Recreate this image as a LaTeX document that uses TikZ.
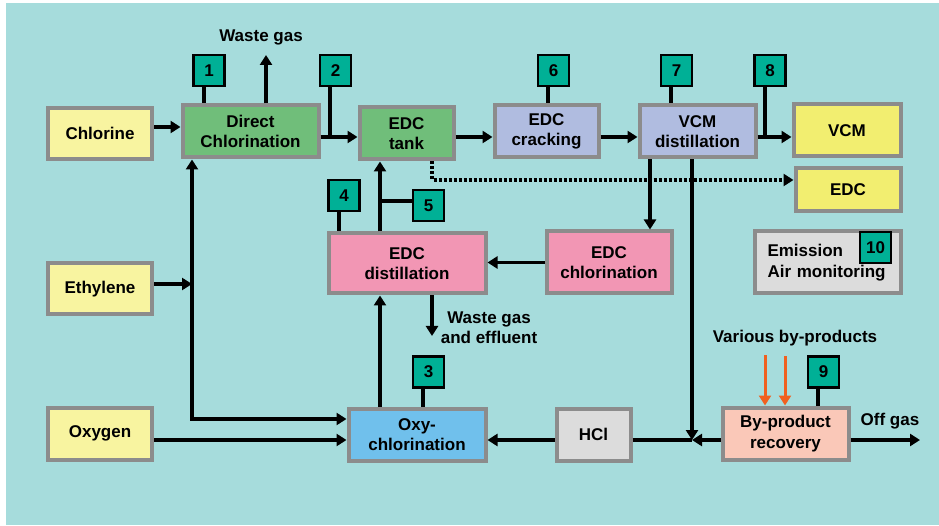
\documentclass[tikz,border=0pt]{standalone}
\usepackage{fontspec}
\setmainfont{Liberation Sans}
\usetikzlibrary{arrows.meta}
\definecolor{bgteal}{RGB}{166,220,220}
\definecolor{feedyellow}{RGB}{248,244,160}
\definecolor{prodyellow}{RGB}{242,238,112}
\definecolor{dcgreen}{RGB}{112,190,122}
\definecolor{lav}{RGB}{176,188,224}
\definecolor{pinkb}{RGB}{242,150,180}
\definecolor{blueb}{RGB}{112,192,236}
\definecolor{grayb}{RGB}{220,220,220}
\definecolor{salmon}{RGB}{250,200,184}
\definecolor{numteal}{RGB}{0,176,150}
\definecolor{bordergray}{RGB}{140,140,140}
\definecolor{orangearr}{RGB}{240,96,32}
\begin{document}
\begin{tikzpicture}[x=1pt,y=-1pt,
  box/.style={draw=bordergray, line width=4pt, inner sep=0pt, align=center,
    font=\bfseries\fontsize{17}{20.5}\selectfont},
  numbox/.style={draw=black, line width=2.5pt, fill=numteal, minimum size=31pt,
    inner sep=0pt, font=\bfseries\fontsize{17}{20}\selectfont},
  flow/.style={line width=3.6pt, -{Triangle[length=10pt,width=12pt]}},
  dotflow/.style={flow, dash pattern=on 3pt off 2pt},
  stub/.style={line width=3.2pt},
  orflow/.style={draw=orangearr, line width=3pt, -{Triangle[length=10pt,width=12pt]}},
  lbl/.style={align=center, inner sep=0pt, font=\bfseries\fontsize{17}{20}\selectfont}]
\useasboundingbox (0,0) rectangle (939,526);
\fill[white] (0,0) rectangle (939,526);
\fill[bgteal] (6,3) rectangle (939,525);

% boxes
\node[box, fill=feedyellow, minimum width=104pt, minimum height=51pt] (chl) at (100,133.5) {Chlorine};
\node[box, fill=feedyellow, minimum width=104pt, minimum height=51pt] (eth) at (100,289) {Ethylene};
\node[box, fill=feedyellow, minimum width=104pt, minimum height=52pt] (oxg) at (100,433.5) {Oxygen};
\node[box, fill=dcgreen, minimum width=136pt, minimum height=52pt] (dc) at (250.5,131.5) {Direct\\Chlorination};
\node[box, fill=dcgreen, minimum width=94pt, minimum height=52pt] (tank) at (406.5,133.5) {EDC\\tank};
\node[box, fill=lav, minimum width=104pt, minimum height=52pt] (crk) at (546.5,131.5) {EDC\\cracking};
\node[box, fill=lav, minimum width=116pt, minimum height=52pt] (vcmd) at (697.5,131.5) {VCM\\distillation};
\node[box, fill=prodyellow, minimum width=107pt, minimum height=52pt] (vcm) at (847,130.5) {VCM};
\node[box, fill=prodyellow, minimum width=105pt, minimum height=43pt] (edc) at (848,190) {EDC};
\node[box, fill=pinkb, minimum width=157pt, minimum height=60pt] (edcd) at (407,263.5) {EDC\\distillation};
\node[box, fill=pinkb, minimum width=125pt, minimum height=62pt] (edcc) at (609,262.5) {EDC\\chlorination};
\node[box, fill=grayb, minimum width=146pt, minimum height=62pt, text width=120pt, align=left] (emi) at (827.5,262.5) {Emission\\Air monitoring};
\node[box, fill=blueb, minimum width=137pt, minimum height=52pt] (oxy) at (417,434.5) {Oxy-\\chlorination};
\node[box, fill=grayb, minimum width=74pt, minimum height=52pt] (hcl) at (593.5,434.5) {HCl};
\node[box, fill=salmon, minimum width=126pt, minimum height=52pt] (byp) at (785.5,433.5) {By-product\\recovery};

% number squares
\node[numbox] (n1) at (209,70.5) {1};
\node[numbox] (n2) at (335.5,70.5) {2};
\node[numbox] (n3) at (428.5,372) {3};
\node[numbox] (n4) at (344,195.5) {4};
\node[numbox] (n5) at (428.5,205.5) {5};
\node[numbox] (n6) at (553.5,70.5) {6};
\node[numbox] (n7) at (676.5,70.5) {7};
\node[numbox] (n8) at (770,70.5) {8};
\node[numbox] (n9) at (823.5,372) {9};
\node[numbox] (n10) at (875.5,247.5) {10};

% labels
\node[lbl] (wg) at (261,37) {Waste gas};
\node[lbl] (wg2) at (489,328) {Waste gas\\and effluent};
\node[lbl] (vbp) at (795,338) {Various by-products};
\node[lbl] (og) at (890,421) {Off gas};

% free ends and junctions
\coordinate (wgtip) at (266,55);
\coordinate (wg2tip) at (432,336);
\coordinate (jn) at (692,440);
\coordinate (ogtip) at (920,440);
\coordinate (ev) at (192,284);
\coordinate (j2) at (330,137);
\coordinate (j8) at (765,137);
\coordinate (j5) at (380,201);
\coordinate (o1) at (765,355);
\coordinate (o2) at (785,356);

% flows
\draw[flow] ([yshift=6.5pt]chl.east) -- ([yshift=4.5pt]dc.west);
\draw[flow] ([xshift=15.5pt]dc.north) -- (wgtip);
\draw[flow] ([yshift=-5.5pt]dc.east) -- ([yshift=-3.5pt]tank.west);
\draw[flow] ([yshift=-3.5pt]tank.east) -- ([yshift=-5.5pt]crk.west);
\draw[flow] ([yshift=-5.5pt]crk.east) -- ([yshift=-5.5pt]vcmd.west);
\draw[flow] ([yshift=-5.5pt]vcmd.east) -- ([yshift=-6.5pt]vcm.west);
\draw[dotflow] ([xshift=25.5pt]tank.south) |- ([yshift=10pt]edc.west);
\draw[flow] ([xshift=-47.5pt]vcmd.south) -- ([xshift=-47.5pt]vcmd.south |- edcc.north);
\draw[flow] ([xshift=-5.5pt]vcmd.south) -- (jn);
\draw[flow] (edcc.west) -- (edcc.west -| edcd.east);
\draw[flow] ([xshift=-27pt]edcd.north) -- ([xshift=-27pt]edcd.north |- tank.south);
\draw[flow] ([xshift=25pt]edcd.south) -- (wg2tip);
\draw[flow] ([xshift=-37pt]oxy.north) -- ([xshift=-37pt]oxy.north |- edcd.south);
\draw[flow] ([yshift=5pt]eth.east) -- (ev);
\draw[flow, {Triangle[length=10pt,width=12pt]}-{Triangle[length=10pt,width=12pt]}]
  ([xshift=-58.5pt]dc.south) |- ([yshift=15.5pt]oxy.west);
\draw[flow] ([yshift=-6.5pt]oxg.east) -- ([yshift=-5.5pt]oxy.west);
\draw[flow] ([yshift=-5.5pt]hcl.west) -- ([yshift=-5.5pt]oxy.east);
\draw[line width=3.6pt] ([yshift=-5.5pt]hcl.east) -- (jn);
\draw[flow] ([yshift=-6.5pt]byp.west) -- (jn);
\draw[flow] ([yshift=-6.5pt]byp.east) -- (ogtip);
\draw[orflow] (o1) -- (o1 |- byp.north);
\draw[orflow] (o2) -- (o2 |- byp.north);

% stubs
\draw[stub] ([xshift=-5pt]n1.south) -- ([xshift=-5pt]n1.south |- dc.north);
\draw[stub] ([xshift=-5.5pt]n2.south) -- (j2);
\draw[stub] ([xshift=-5.5pt]n3.south) -- ([xshift=-5.5pt]n3.south |- oxy.north);
\draw[stub] ([xshift=-5pt]n4.south) -- ([xshift=-5pt]n4.south |- edcd.north);
\draw[stub] (j5) -- ([yshift=4.5pt]n5.west);
\draw[stub] ([xshift=-5.5pt]n6.south) -- ([xshift=-5.5pt]n6.south |- crk.north);
\draw[stub] ([xshift=-5.5pt]n7.south) -- ([xshift=-5.5pt]n7.south |- vcmd.north);
\draw[stub] ([xshift=-5pt]n8.south) -- (j8);
\draw[stub] ([xshift=-5.5pt]n9.south) -- ([xshift=-5.5pt]n9.south |- byp.north);
\end{tikzpicture}
\end{document}
